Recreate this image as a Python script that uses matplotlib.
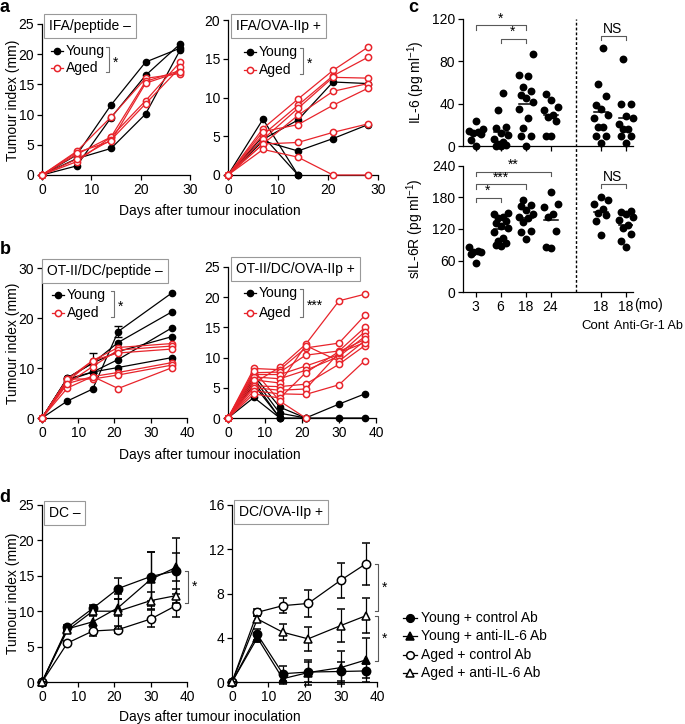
import numpy as np
import matplotlib
matplotlib.use("Agg")
import matplotlib.pyplot as plt

plt.rcParams["font.family"] = ["Liberation Sans", "DejaVu Sans"]
plt.rcParams["font.size"] = 10
plt.rcParams["axes.linewidth"] = 0.9

W, H = 685, 724
RED = "#e8242b"
nan = np.nan

# ---------------- panel a ----------------
days_a = [0, 7, 14, 21, 28]
a1_young = [
    [0, 3.3, 11.6, 18.7, 21.0],
    [0, 1.5, 9.5, 16.5, 21.7],
    [0, 2.7, 4.4, 10.1, 20.7],
]
a1_aged = [
    [0, 3.9, 9.6, 16.0, 16.8],
    [0, 3.4, 6.3, 15.5, 17.3],
    [0, 2.2, 6.3, 12.3, 18.7],
    [0, 2.6, 5.8, 11.8, 17.8],
    [0, 3.7, 5.6, 15.2, 17.1],
]
a2_young = [
    [0, 4.6, 7.1, 12.0, 11.8],
    [0, 4.4, 3.1, 4.7, 6.5],
    [0, 7.2, 0, nan, nan],
    [0, 5.0, 0, nan, nan],
]
a2_aged = [
    [0, 6.0, 9.8, 13.5, 16.5],
    [0, 5.2, 9.0, 12.8, 15.2],
    [0, 4.6, 8.6, 12.6, 12.5],
    [0, 4.0, 7.7, 10.8, 11.8],
    [0, 5.6, 6.5, 9.0, 11.2],
    [0, 4.0, 4.2, 5.5, 6.6],
    [0, 3.3, 2.3, 0, 0],
]

# ---------------- panel b ----------------
days_b1 = [0, 7, 14, 21, 36]
b1_young = [
    [0, 3.4, 5.8, 17.3, 25.1],
    [0, 8.0, 11.0, 15.1, 21.3],
    [0, 7.8, 9.2, 11.7, 18.1],
    [0, 8.0, 11.0, 13.3, 16.3],
    [0, 7.5, 9.2, 10.1, 12.1],
]
b1_aged = [
    [0, 7.8, 11.5, 14.1, 14.9],
    [0, 6.9, 10.3, 13.6, 14.4],
    [0, 7.3, 11.5, 13.0, 13.8],
    [0, 6.0, 8.3, 9.1, 11.1],
    [0, 7.8, 7.8, 8.6, 10.6],
    [0, 6.9, 8.3, 5.9, 10.1],
]
b1_err_days = [14, 21]
b1_err_vals = [11.0, 17.3]
b1_err = [2.0, 1.1]

days_b2 = [0, 7, 14, 21, 30, 37]
b2_young = [
    [0, 7.0, 1.8, 0, 2.3, 4.0],
    [0, 6.5, 0.8, 0, 0, 0],
    [0, 6.0, 0, 0, nan, nan],
    [0, 5.5, 0, nan, nan, nan],
    [0, 3.4, 0, nan, nan, nan],
]
b2_aged = [
    [0, 5.8, 8.4, 12.2, 19.4, 20.5],
    [0, 8.2, 8.0, 11.6, 12.4, 17.0],
    [0, 7.5, 7.6, 10.4, 11.1, 15.0],
    [0, 7.2, 7.2, 8.6, 10.5, 14.3],
    [0, 6.8, 6.5, 7.9, 10.2, 13.5],
    [0, 6.3, 5.8, 12.0, 9.4, 12.8],
    [0, 5.3, 5.2, 5.6, 8.9, 12.0],
    [0, 5.0, 4.6, 4.8, 10.8, 12.5],
    [0, 4.5, 4.0, 3.9, 5.5, 9.5],
    [0, 4.0, 3.3, 7.5, 11.0, 13.0],
    [0, 7.8, 2.8, 0, nan, nan],
]

# ---------------- panel c ----------------
c_labels = ["3", "6", "18", "24", "18", "18"]
il6 = [
    [14, 16, 12, 13, 24, 6, 0, 11],
    [50, 34, 18, 17, 12, 10, 7, 4, 2, 1, 0, 0],
    [87, 67, 66, 56, 52, 48, 45, 42, 35, 26, 17, 9, 9, 0],
    [49, 43, 37, 34, 29, 27, 24, 9, 9],
    [93, 59, 47, 39, 35, 29, 26, 18, 18, 9, 9, 3],
    [82, 40, 40, 28, 26, 21, 16, 16, 9, 9, 3],
]
sil6r = [
    [86, 79, 77, 76, 73, 56],
    [151, 149, 143, 140, 135, 132, 126, 121, 114, 103, 98, 94, 90, 88],
    [175, 166, 163, 157, 149, 143, 140, 133, 117, 114, 100],
    [190, 167, 161, 149, 143, 117, 86, 83],
    [181, 175, 168, 159, 150, 146, 135, 108],
    [152, 154, 149, 143, 137, 127, 121, 111, 98, 86],
]

# ---------------- panel d ----------------
days_d = [0, 7, 14, 21, 30, 37]
d_names = ["Young + control Ab", "Young + anti-IL-6 Ab",
           "Aged + control Ab", "Aged + anti-IL-6 Ab"]
d1_mean = [
    [0, 7.7, 10.4, 13.2, 14.9, 15.7],
    [0, 7.5, 8.5, 10.5, 14.5, 16.2],
    [0, 5.5, 7.2, 7.4, 8.9, 10.8],
    [0, 7.3, 10.0, 10.0, 11.5, 12.2],
]
d1_err = [
    [0, 0.3, 0.5, 1.5, 3.5, 4.7],
    [0, 0.3, 0.8, 1.2, 3.8, 2.0],
    [0, 0.3, 0.7, 0.5, 1.2, 1.6],
    [0, 0.3, 0.5, 2.5, 1.2, 1.0],
]
d2_mean = [
    [0, 4.3, 0.75, 0.9, 0.95, 1.0],
    [0, 4.0, 0.3, 0.85, 1.3, 2.0],
    [0, 6.3, 6.9, 7.1, 9.2, 10.7],
    [0, 5.7, 4.5, 3.9, 5.1, 6.0],
]
d2_err = [
    [0, 0.5, 0.7, 0.9, 0.9, 0.6],
    [0, 0.4, 0.5, 1.1, 1.5, 2.0],
    [0, 0.3, 0.7, 1.2, 1.6, 1.9],
    [0, 0.3, 0.7, 1.1, 1.5, 1.6],
]
d_markers = ["o", "^", "o", "^"]
d_faces = ["k", "k", "white", "white"]


def rect(l, t, r, b):
    return [l / W, 1 - b / H, (r - l) / W, (b - t) / H]


def style(ax):
    ax.spines["top"].set_visible(False)
    ax.spines["right"].set_visible(False)
    ax.tick_params(direction="out", length=3.5, width=0.9, labelsize=10, pad=2)
    ax.patch.set_alpha(0)


def mice(ax, days, young, aged):
    for row in young:
        ax.plot(days, row, "-o", color="k", lw=0.9, ms=4.5, clip_on=False, zorder=3)
    for row in aged:
        ax.plot(days, row, "-o", color=RED, lw=0.9, ms=4.5, mfc="white",
                mew=1.1, clip_on=False, zorder=4)


fig = plt.figure(figsize=(W / 100, H / 100), dpi=100)

# a
ax = fig.add_axes(rect(42, 24, 190, 175))
style(ax)
mice(ax, days_a, a1_young, a1_aged)
ax.set_xlim(0, 30); ax.set_ylim(0, 25)
ax.set_xticks([0, 10, 20, 30]); ax.set_yticks(range(0, 26, 5))

ax = fig.add_axes(rect(228, 20, 378, 175))
style(ax)
mice(ax, days_a, a2_young, a2_aged)
ax.set_xlim(0, 30); ax.set_ylim(0, 20)
ax.set_xticks([0, 10, 20, 30]); ax.set_yticks(range(0, 21, 5))

# b
ax = fig.add_axes(rect(42, 268, 187, 418))
style(ax)
mice(ax, days_b1, b1_young, b1_aged)
ax.errorbar(b1_err_days, b1_err_vals, yerr=b1_err, fmt="none", ecolor="k",
            elinewidth=0.9, capsize=3, zorder=3)
ax.set_xlim(0, 40); ax.set_ylim(0, 30)
ax.set_xticks(range(0, 41, 10)); ax.set_yticks([0, 10, 20, 30])

ax = fig.add_axes(rect(228, 267, 376, 418))
style(ax)
mice(ax, days_b2, b2_young, b2_aged)
ax.set_xlim(0, 40); ax.set_ylim(0, 25)
ax.set_xticks(range(0, 41, 10)); ax.set_yticks(range(0, 26, 5))


# c
def spread(vals):
    pattern = [0, -0.2, 0.2, -0.1, 0.1, -0.28, 0.28]
    order = np.argsort(vals)
    off = np.zeros(len(vals))
    for i, k in enumerate(order):
        off[k] = pattern[i % len(pattern)]
    return off


cat_pos = [0, 1, 2, 3, 5, 6]


def dots(ax, groups):
    for pos, vals in zip(cat_pos, groups):
        ax.scatter(pos + spread(vals), vals, s=32, color="k", clip_on=False,
                   zorder=3, linewidths=0)
        m = np.mean(vals)
        ax.plot([pos - 0.28, pos + 0.28], [m, m], color="k", lw=1.1, zorder=2)


def sig(ax, x1, x2, y, h, label):
    ax.plot([x1, x1, x2, x2], [y - h, y, y, y - h], color="0.35", lw=0.8,
            clip_on=False)
    ax.text((x1 + x2) / 2, y, label, ha="center", va="bottom", fontsize=10)


axc1 = fig.add_axes(rect(463, 19, 633, 146))
style(axc1)
dots(axc1, il6)
axc1.set_xlim(-0.5, 6.3); axc1.set_ylim(0, 120)
axc1.set_yticks([0, 40, 80, 120])
axc1.set_xticks(cat_pos); axc1.set_xticklabels([])
axc1.plot([4, 4], [-0.16, 1.0], transform=axc1.get_xaxis_transform(),
          ls=(0, (2, 1.5)), color="k", lw=1, clip_on=False)
sig(axc1, 0, 2, 114, 4, "*")
sig(axc1, 1, 2, 101, 4, "*")
sig(axc1, 5, 6, 104, 4, "NS")
axc1.set_ylabel("IL-6 (pg ml$^{\\mathregular{-1}}$)", fontsize=10, labelpad=4)

axc2 = fig.add_axes(rect(463, 166, 633, 292))
style(axc2)
dots(axc2, sil6r)
axc2.set_xlim(-0.5, 6.3); axc2.set_ylim(0, 240)
axc2.set_yticks([0, 60, 120, 180, 240])
axc2.set_xticks(cat_pos); axc2.set_xticklabels(c_labels)
axc2.plot([4, 4], [0, 1.0], transform=axc2.get_xaxis_transform(),
          ls=(0, (2, 1.5)), color="k", lw=1, clip_on=False)
sig(axc2, 0, 1, 179, 8, "*")
sig(axc2, 0, 2, 205, 8, "***")
sig(axc2, 0, 3, 229, 8, "**")
sig(axc2, 5, 6, 206, 8, "NS")
axc2.set_ylabel("sIL-6R (pg ml$^{\\mathregular{-1}}$)", fontsize=10, labelpad=4)


# d
def groups(ax, means, errs):
    for i, (m, e) in enumerate(zip(means, errs)):
        ax.errorbar(days_d, m, yerr=e, fmt="-" + d_markers[i], color="k",
                    mfc=d_faces[i], mec="k", ms=6, mew=1.1, lw=0.9,
                    elinewidth=0.9, capsize=3, capthick=0.9, clip_on=False,
                    zorder=3 + i)


def bracket(ax, x, y1, y2, label):
    ax.plot([x - 0.8, x, x, x - 0.8], [y1, y1, y2, y2], color="0.35", lw=0.8,
            clip_on=False)
    ax.text(x + 1.0, (y1 + y2) / 2, label, ha="left", va="center", fontsize=10)


ax = fig.add_axes(rect(42, 505, 187, 682))
style(ax)
groups(ax, d1_mean, d1_err)
ax.set_xlim(0, 40); ax.set_ylim(0, 25)
ax.set_xticks(range(0, 41, 10)); ax.set_yticks(range(0, 26, 5))
bracket(ax, 40.3, 15.7, 11.1, "*")

ax = fig.add_axes(rect(232, 505, 377, 682))
style(ax)
groups(ax, d2_mean, d2_err)
ax.set_xlim(0, 40); ax.set_ylim(0, 16)
ax.set_xticks(range(0, 41, 10)); ax.set_yticks(range(0, 17, 4))
bracket(ax, 40.3, 10.7, 6.4, "*")
bracket(ax, 40.3, 6.0, 1.9, "*")

# ---------------- overlay annotations (pixel coords) ----------------
ov = fig.add_axes([0, 0, 1, 1], zorder=10)
ov.set_xlim(0, W); ov.set_ylim(H, 0)
ov.axis("off")
ov.patch.set_alpha(0)

for s, x, y in [("a", 5, 7), ("b", 5, 250), ("c", 413, 7), ("d", 5, 497)]:
    ov.text(x, y, s, fontsize=13, fontweight="bold", ha="center", va="center")

for s, x, y in [("IFA/peptide \u2013", 49, 26), ("IFA/OVA-IIp +", 236, 26),
                ("OT-II/DC/peptide \u2013", 47, 271), ("OT-II/DC/OVA-IIp +", 236, 269),
                ("DC \u2013", 49, 513), ("DC/OVA-IIp +", 239, 512)]:
    ov.text(x, y, s, ha="left", va="center", fontsize=10,
            bbox=dict(boxstyle="square,pad=0.35", fc="white", ec="0.6", lw=0.8))


def group_legend(x, y1, y2, bx, stars):
    ov.plot([x - 6, x + 6], [y1, y1], color="k", lw=0.9)
    ov.plot([x], [y1], "o", color="k", ms=4.5)
    ov.text(x + 9, y1, "Young", ha="left", va="center", fontsize=10)
    ov.plot([x - 6, x + 6], [y2, y2], color=RED, lw=0.9)
    ov.plot([x], [y2], "o", color=RED, mfc="white", mew=1.1, ms=4.5)
    ov.text(x + 9, y2, "Aged", ha="left", va="center", fontsize=10)
    ov.plot([bx - 3, bx, bx, bx - 3], [y1 - 4, y1 - 4, y2 + 4, y2 + 4],
            color="0.45", lw=0.8)
    ov.text(bx + 4, (y1 + y2) / 2 + 3, stars, ha="left", va="center", fontsize=10)


group_legend(57, 51, 68, 109, "*")
group_legend(250, 52, 70, 303, "*")
group_legend(58, 295, 313, 114, "*")
group_legend(250, 293, 313, 303, "***")

for i, name in enumerate(d_names):
    y = [618, 636, 655, 673][i]
    ov.plot([403, 417], [y, y], color="k", lw=0.9)
    ov.plot([410], [y], d_markers[i], color="k", mfc=d_faces[i], ms=5.5, mew=1.1)
    ov.text(421, y, name, ha="left", va="center", fontsize=10)

for y in [211, 455, 717]:
    ov.text(210, y, "Days after tumour inoculation", ha="center", va="center",
            fontsize=10)
for y in [100, 343, 593]:
    ov.text(13, y, "Tumour index (mm)", ha="center", va="center", rotation=90,
            fontsize=10)

ov.text(634, 305, "(mo)", ha="left", va="center", fontsize=10)
ov.text(595, 326, "Cont", ha="center", va="center", fontsize=9.5)
ov.text(683, 326, "Anti-Gr-1 Ab", ha="right", va="center", fontsize=9)

fig.savefig("out.png", dpi=100)
